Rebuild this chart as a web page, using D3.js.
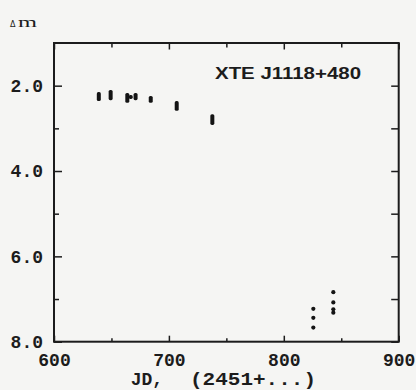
<!DOCTYPE html>
<html>
<head>
<meta charset="utf-8">
<script src="https://cdn.jsdelivr.net/npm/d3@7"></script>
<style>
	body { margin: 0; background: #f5f5f3; }
	svg { display: block; }
	.mono { font-family: "Liberation Mono", "DejaVu Sans Mono", monospace; font-weight: bold; fill: #1c1c1c; }
</style>
</head>
<body>
<div id="chart"></div>
<script>
// nightly spreads of the light curve (JD - 2451000), drawn as short vertical bars
const barDays = [639, 649.3, 663.8, 666.8, 671, 684.2, 706.8, 737.8]
const barMagTop = [2.15, 2.1, 2.17, 2.22, 2.17, 2.24, 2.36, 2.67]
const barMagBottom = [2.36, 2.34, 2.4, 2.31, 2.34, 2.4, 2.59, 2.92]

// late single points
const dotDays = [825.7, 825.7, 825.7, 843.1, 843.1, 843.1, 843.1]
const dotMags = [7.23, 7.44, 7.67, 6.84, 7.08, 7.24, 7.32]

const xMajorTicks = [600, 700, 800, 900]
const xMinorTicks = [650, 750, 850]
const yMajorTicks = [2, 4, 6, 8]
const yMinorTicks = [3, 5, 7]
const objectName = "XTE J1118+480"

const width = 416
const height = 390
const plotLeft = 54
const plotRight = 398.7
const plotTop = 43
const plotBottom = 341.7
const ink = "#1c1c1c"

const x = d3.scaleLinear().domain([600, 900]).range([plotLeft, plotRight])
const y = d3.scaleLinear().domain([1, 8]).range([plotTop, plotBottom])

const svg = d3.select("#chart").append("svg").attr("width", width).attr("height", height)

// ticks, all pointing into the frame
const tickStyle = g => {
	g.select(".domain").remove()
	g.selectAll(".tick line").attr("stroke", ink).attr("stroke-width", 1.5)
	g.selectAll(".tick text").attr("class", "mono").attr("font-size", 18).attr("fill", ink)
}

svg.append("g")
	.attr("transform", `translate(0,${plotBottom})`)
	.call(d3.axisBottom(x).tickValues(xMajorTicks).tickSizeInner(-6).tickSizeOuter(0).tickPadding(11.5).tickFormat(d3.format("d")))
	.call(tickStyle)
svg.append("g")
	.attr("transform", `translate(0,${plotBottom})`)
	.call(d3.axisBottom(x).tickValues(xMinorTicks).tickSizeInner(-3.5).tickSizeOuter(0).tickFormat(""))
	.call(tickStyle)
svg.append("g")
	.attr("transform", `translate(0,${plotTop})`)
	.call(d3.axisTop(x).tickValues(xMajorTicks).tickSizeInner(-6.5).tickSizeOuter(0).tickFormat(""))
	.call(tickStyle)
svg.append("g")
	.attr("transform", `translate(0,${plotTop})`)
	.call(d3.axisTop(x).tickValues(xMinorTicks).tickSizeInner(-4.5).tickSizeOuter(0).tickFormat(""))
	.call(tickStyle)

svg.append("g")
	.attr("transform", `translate(${plotLeft},0)`)
	.call(d3.axisLeft(y).tickValues(yMajorTicks).tickSizeInner(-8).tickSizeOuter(0).tickPadding(11).tickFormat(d3.format(".1f")))
	.call(tickStyle)
svg.append("g")
	.attr("transform", `translate(${plotLeft},0)`)
	.call(d3.axisLeft(y).tickValues(yMinorTicks).tickSizeInner(-5).tickSizeOuter(0).tickFormat(""))
	.call(tickStyle)
svg.append("g")
	.attr("transform", `translate(${plotRight},0)`)
	.call(d3.axisRight(y).tickValues(yMajorTicks.concat(yMinorTicks)).tickSizeInner(-7.5).tickSizeOuter(0).tickFormat(""))
	.call(tickStyle)

// frame
svg.append("rect")
	.attr("x", plotLeft)
	.attr("y", plotTop)
	.attr("width", plotRight - plotLeft)
	.attr("height", plotBottom - plotTop)
	.attr("fill", "none")
	.attr("stroke", ink)
	.attr("stroke-width", 2)

// data
svg.append("g")
	.selectAll("rect")
	.data(barDays)
	.join("rect")
	.attr("x", d => x(d) - 2)
	.attr("y", (d, i) => y(barMagTop[i]))
	.attr("width", 4)
	.attr("height", (d, i) => y(barMagBottom[i]) - y(barMagTop[i]))
	.attr("rx", 1.6)
	.attr("fill", "#141414")

svg.append("g")
	.selectAll("circle")
	.data(dotDays)
	.join("circle")
	.attr("cx", d => x(d))
	.attr("cy", (d, i) => y(dotMags[i]))
	.attr("r", 2.1)
	.attr("fill", "#141414")

// labels
svg.append("text")
	.attr("x", 215)
	.attr("y", 79)
	.attr("font-family", "Liberation Sans, Arial, sans-serif")
	.attr("font-weight", "bold")
	.attr("font-size", 16)
	.attr("textLength", 146)
	.attr("lengthAdjust", "spacingAndGlyphs")
	.attr("fill", ink)
	.text(objectName)

svg.append("text")
	.attr("class", "mono")
	.attr("x", 130.7)
	.attr("y", 385)
	.attr("font-size", 18)
	.text("JD,")
svg.append("text")
	.attr("class", "mono")
	.attr("x", 190)
	.attr("y", 385)
	.attr("font-size", 18)
	.attr("textLength", 126)
	.attr("lengthAdjust", "spacingAndGlyphs")
	.text("(2451+...)")

// Δm label above the y axis
svg.append("text")
	.attr("x", 10)
	.attr("y", 27.3)
	.attr("font-family", "DejaVu Sans, sans-serif")
	.attr("font-size", 8)
	.attr("fill", ink)
	.text("Δ")
svg.append("text")
	.attr("x", 18)
	.attr("y", 27.3)
	.attr("font-family", "Liberation Serif, serif")
	.attr("font-size", 15)
	.attr("fill", ink)
	.attr("textLength", 19)
	.attr("lengthAdjust", "spacingAndGlyphs")
	.text("m")
</script>
</body>
</html>
